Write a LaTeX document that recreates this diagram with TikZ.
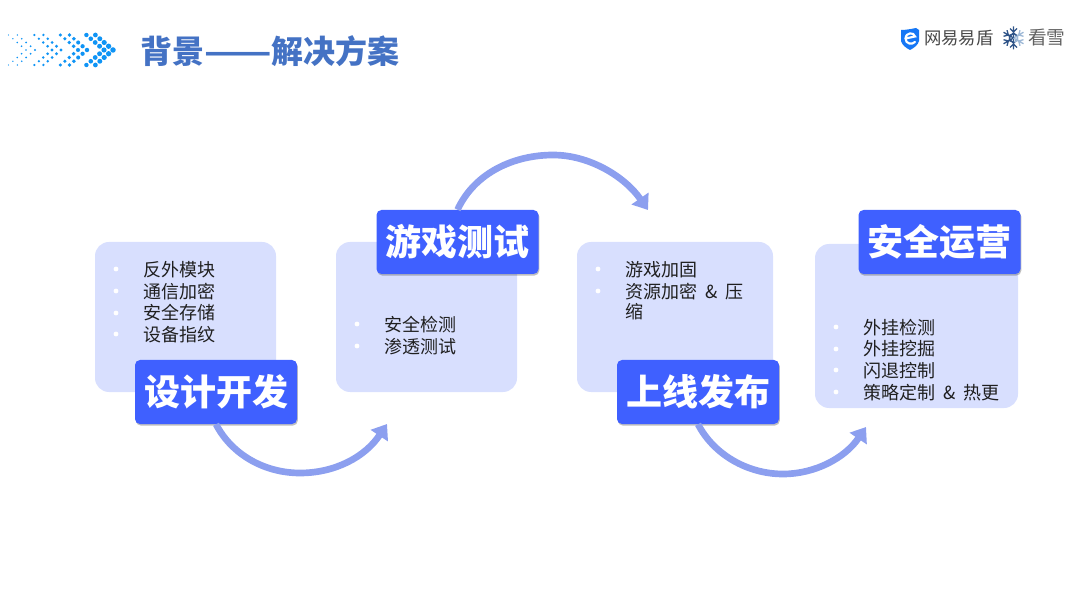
\documentclass[tikz,border=0pt]{standalone}
\usepackage{fontspec}
\usepackage{graphicx}
\setmainfont{Noto Sans CJK SC}
\usetikzlibrary{arrows.meta,shadows}
\definecolor{panelfill}{HTML}{D8DFFE}
\definecolor{headfill}{HTML}{3F60FF}
\definecolor{arrowcol}{HTML}{8C9FEF}
\definecolor{titlecol}{HTML}{4472C4}
\definecolor{dotcol}{HTML}{0F94F5}
\definecolor{shieldcol}{HTML}{1677F5}
\definecolor{flakedark}{HTML}{2F5488}
\definecolor{flakelight}{HTML}{9DB8D6}
\newcommand{\ampgap}{\hspace{2.7pt}}
\tikzset{
  panel/.style={fill=panelfill,draw=none,rounded corners=10.5pt,inner sep=0pt},
  headbox/.style={fill=headfill,draw=none,rounded corners=3.75pt,inner sep=0pt,
    minimum width=121.5pt,minimum height=48pt,text=white,font=\fontsize{27pt}{27pt}\selectfont\bfseries,
    drop shadow={shadow xshift=0.6pt,shadow yshift=-1.2pt,opacity=.25,fill=black}},
  item/.style={anchor=base west,inner sep=0pt,text=black!88,font=\fontsize{13.5pt}{16pt}\selectfont},
  bulletdot/.style={circle,fill=white,draw=none,inner sep=0pt,minimum size=3.6pt},
  flow/.style={draw=arrowcol,line width=5pt,-{Triangle[length=10.5pt,width=15pt,fill=arrowcol]}},
}
\begin{document}
\begin{tikzpicture}[x=0.75pt,y=-0.75pt]
\useasboundingbox (0,0) rectangle (1080,605);
% chevron dots
\foreach \c in {0,1,2,3}{
  \foreach \j in {-4,...,4}{
    \foreach \k in {0,1}{
      \pgfmathsetmacro{\px}{113-26*(3-\c)-abs(\j)*4.4-\k*9}
      \pgfmathsetmacro{\py}{50+\j*3.75}
      \pgfmathsetmacro{\rr}{0.65+2.1*(\px-9)/104}
      \fill[dotcol] (\px,\py) circle[radius=\rr*0.75pt];
    }
  }
}
\node[anchor=west,inner sep=0pt,text=titlecol,font=\fontsize{24pt}{24pt}\selectfont\bfseries] (title) at (140,51) {背景\scalebox{1.23}[1]{——}解决方案};
% logo
\path[fill=shieldcol] (901,30) .. controls (906,30) and (911,29) .. (916,28) -- (919,30)
  -- (919,41) .. controls (918,45) and (914,48) .. (910,50) .. controls (906,48) and (902,45) .. (901,41) -- cycle;
\draw[white,line width=1.6pt,line cap=round] (905.5,38.5) -- (915,36.5) .. controls (914,32) and (906,32) .. (905.5,38.5)
  .. controls (905.5,44) and (912,45) .. (915,42);
\node[anchor=west,inner sep=0pt,text=black!72,font=\fontsize{13pt}{13pt}\selectfont] (brand) at (924,38) {网易易盾};
\foreach \a in {30,90,150,210,270,330}{
  \begin{scope}[shift={(1013.5,38)},rotate=\a]
    \pgfmathtruncatemacro{\lite}{(\a==30||\a==330)?1:0}
    \ifnum\lite=1 \def\flakec{flakelight}\else\def\flakec{flakedark}\fi
    \draw[\flakec,line width=1pt] (0,0) -- (11.5,0) (6,0) -- (9.5,-3.5) (6,0) -- (9.5,3.5) (2.5,-3) -- (5,0) -- (2.5,3);
  \end{scope}
}
\node[anchor=west,inner sep=0pt,text=black!62,font=\fontsize{14pt}{14pt}\selectfont] (brandb) at (1028,38) {看雪};
% panels
\node[panel,minimum width=135.75pt,minimum height=112.5pt] (p1) at (185.5,317) {};
\node[panel,minimum width=135.75pt,minimum height=112.5pt] (p2) at (426.5,317) {};
\node[panel,minimum width=147pt,minimum height=112.5pt] (p3) at (675,317) {};
\node[panel,minimum width=152.25pt,minimum height=123pt] (p4) at (916.5,326) {};
% heads
\node[headbox] (h1) at (216,392) {设计开发};
\node[headbox] (h2) at (457.5,242) {游戏测试};
\node[headbox] (h3) at (698,392) {上线发布};
\node[headbox] (h4) at (939.5,242) {安全运营};
% arrow ends
\coordinate (e1) at (387,424);
\coordinate (e2) at (648,210);
\coordinate (e3) at (866,427);
\draw[flow] (h1.south) .. controls (232,455) and (265,473) .. (300,473) .. controls (335,473) and (365,457) .. (e1);
\draw[flow] (h2.north) .. controls (475,172) and (515,155) .. (553,155) .. controls (590,155) and (625,177) .. (e2);
\draw[flow] (h3.south) .. controls (714,455) and (748,474) .. (783,474) .. controls (815,474) and (845,458) .. (e3);
% lists
\node[bulletdot] (b11) at (116,269) {}; \node[item] (t11) at (143.7,277) {反外模块};
\node[bulletdot] (b12) at (116,291) {}; \node[item] (t12) at (143.7,298.7) {通信加密};
\node[bulletdot] (b13) at (116,313) {}; \node[item] (t13) at (143.7,320) {安全存储};
\node[bulletdot] (b14) at (116,334) {}; \node[item] (t14) at (143.7,341.7) {设备指纹};
\node[bulletdot] (b21) at (357,324) {}; \node[item] (t21) at (384.7,332) {安全检测};
\node[bulletdot] (b22) at (357,346) {}; \node[item] (t22) at (384.7,353.7) {渗透测试};
\node[bulletdot] (b31) at (598,269) {}; \node[item] (t31) at (625.7,277) {游戏加固};
\node[bulletdot] (b32) at (598,291) {}; \node[item] (t32) at (625.7,298.7) {资源加密\ampgap{} \& \ampgap{}压};
\node[item] (t33) at (625.7,319) {缩};
\node[bulletdot] (b41) at (836,327) {}; \node[item] (t41) at (863.7,334.7) {外挂检测};
\node[bulletdot] (b42) at (836,349) {}; \node[item] (t42) at (863.7,356) {外挂挖掘};
\node[bulletdot] (b43) at (836,370) {}; \node[item] (t43) at (863.7,377.7) {闪退控制};
\node[bulletdot] (b44) at (836,392) {}; \node[item] (t44) at (863.7,399) {策略定制\ampgap{} \& \ampgap{}热更};
\end{tikzpicture}
\end{document}
